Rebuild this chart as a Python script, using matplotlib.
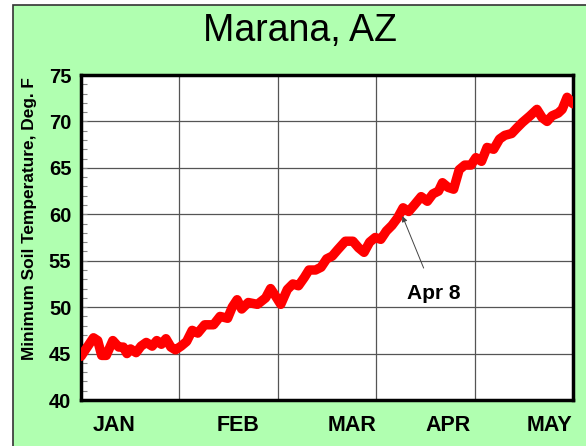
import matplotlib
matplotlib.use("Agg")
import matplotlib.pyplot as plt
from matplotlib.patches import Rectangle
from matplotlib.ticker import MultipleLocator

# day of year (0 = Jan 1) and minimum soil temperature (deg F)
days = [0, 3.8, 5.1, 6.3, 7.7, 9.7, 11.5, 12.9, 14, 15.1, 16.8, 18.3, 19.9, 21.7,
        23.1, 24.5, 25.9, 27.4, 28.8, 30.5, 32.2, 33.9, 35.6, 37.7, 40.4, 42.4,
        44.7, 46.1, 47.6, 49, 51, 53.8, 56.3, 57.8, 59.3, 60.9, 62.9, 64.6, 66.3,
        68.1, 69.5, 71.5, 73.2, 74.9, 76.6, 78.3, 80.6, 82.9, 84.6, 86.3, 88.0,
        89.7, 91.4, 93.1, 94.8, 96.5, 98.2, 99.9, 101.6, 103.7, 105.6, 107.3,
        109.0, 110.2, 111.9, 113.6, 115.3, 117.0, 118.9, 120.4, 122.1, 123.8,
        125.8, 127.6, 129.2, 131.3, 132.9, 134.6, 136.9, 139.0, 140.6, 142.1,
        143.6, 145.5, 146.7, 148.2, 150]
temps = [44.7, 46.7, 46.4, 44.8, 44.8, 46.4, 45.7, 45.7, 45.0, 45.5, 45.1, 45.8,
         46.2, 45.8, 46.4, 46.0, 46.6, 45.7, 45.4, 45.8, 46.3, 47.5, 47.2, 48.1,
         48.1, 49.0, 48.8, 50.0, 50.8, 49.8, 50.5, 50.3, 51.0, 52.0, 51.2, 50.3,
         51.9, 52.5, 52.3, 53.2, 54.0, 54.0, 54.3, 55.2, 55.5, 56.2, 57.1, 57.1,
         56.4, 55.9, 57.0, 57.5, 57.3, 58.2, 58.8, 59.6, 60.7, 60.3, 61.0, 61.9,
         61.4, 62.2, 62.5, 63.4, 62.9, 62.7, 64.8, 65.3, 65.3, 66.1, 65.7, 67.2,
         67.0, 68.1, 68.5, 68.7, 69.3, 69.9, 70.6, 71.3, 70.4, 70.0, 70.6, 70.9,
         71.3, 72.6, 71.9]

months = ["JAN", "FEB", "MAR", "APR", "MAY"]
month_pos = [10, 47.8, 82.6, 111.9, 142.9]
grid_days = [0, 30, 60, 90, 120, 150]

note_text = "Apr 8"
note_day = 98.0
note_temp = 59.8

green = "#b0ffb0"

fig = plt.figure(figsize=(5.86, 4.46), dpi=100)
fig.patch.set_facecolor("white")
# green panel with dark border (left/top visible)
fig.patches.append(Rectangle((13 / 586, -0.1), 1.2, 1.1 - 5 / 446,
                             transform=fig.transFigure, facecolor=green,
                             edgecolor="#333333", linewidth=1.2, zorder=-5))

ax = fig.add_axes([81 / 586, 46 / 446, 492 / 586, 325 / 446])
ax.set_zorder(2)
ax.set_facecolor("white")

ax.plot(days, temps, color="red", linewidth=6.8, solid_capstyle="round",
        solid_joinstyle="round", zorder=3)

ax.set_xlim(0, 150)
ax.set_ylim(40, 75)

ax.yaxis.set_major_locator(MultipleLocator(5))
ax.yaxis.set_minor_locator(MultipleLocator(1))
ax.set_xticks(month_pos)
ax.set_xticklabels(months)
ax.set_xticks(grid_days, minor=True)

ax.grid(which="major", axis="y", color="#555555", linewidth=0.9)
ax.grid(which="minor", axis="x", color="#555555", linewidth=0.9)

ax.tick_params(axis="x", which="both", length=0, pad=11, labelsize=15.5)
ax.tick_params(axis="y", which="both", direction="in", length=4,
               color="#888888", width=0.8, labelsize=14.5, pad=7)
for lab in ax.get_xticklabels() + ax.get_yticklabels():
    lab.set_fontweight("bold")
    lab.set_fontfamily("Liberation Sans")

for sp in ax.spines.values():
    sp.set_linewidth(2.5)
    sp.set_color("black")

fig.text(300 / 586, 1 - 31 / 446, "Marana, AZ", ha="center", va="center",
         fontsize=27, family="Liberation Sans")
fig.text(30 / 586, 1 - 219 / 446, "Minimum Soil Temperature, Deg. F",
         rotation=90, ha="center", va="center", fontsize=12.4,
         fontweight="bold", family="Liberation Sans")

ax.annotate(note_text, xy=(note_day, note_temp), xytext=(107.6, 51.5),
            ha="center", va="center", fontsize=15, fontweight="bold",
            family="Liberation Sans",
            arrowprops=dict(arrowstyle="-|>", color="#444444", lw=0.7,
                            mutation_scale=8, shrinkA=10, shrinkB=0),
            zorder=5)

fig.savefig("out.png", dpi=100, facecolor=fig.get_facecolor())
